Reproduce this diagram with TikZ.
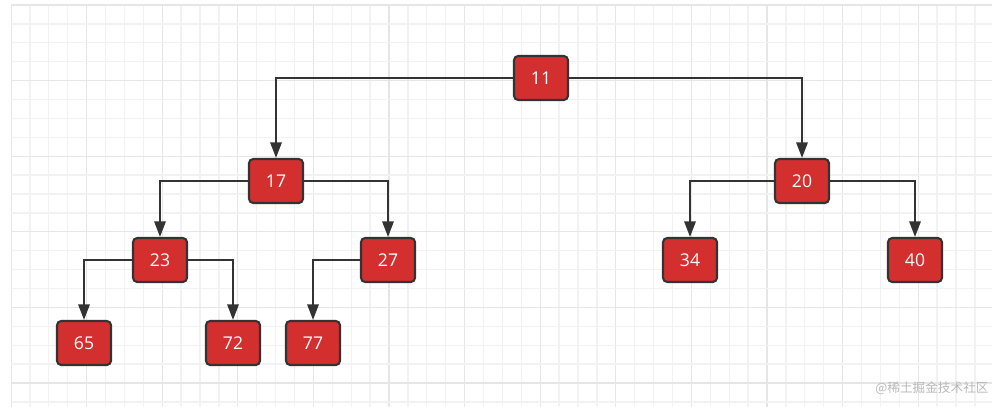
\documentclass[tikz,border=0pt]{standalone}
\usepackage{fontspec}
\setmainfont{Open Sans}
\newfontfamily\cjkfont{Noto Sans CJK SC}
\usetikzlibrary{arrows.meta}
\definecolor{boxred}{HTML}{D32F2F}
\definecolor{edge}{HTML}{333333}
\definecolor{gridminor}{HTML}{F2F2F2}
\definecolor{gridmajor}{HTML}{E6E6E6}

\begin{document}
\begin{tikzpicture}[x=0.025cm, y=-0.025cm,
  treenode/.style={draw=edge, line width=1.5pt, fill=boxred, rounded corners=3pt,
    minimum width=1.35cm, minimum height=1.1cm, inner sep=0pt,
    text=white, font=\fontsize{12.5}{15}\selectfont},
  link/.style={draw=edge, line width=1.5pt, -{Triangle[length=11pt, width=8pt]}}]

\useasboundingbox (0,0) rectangle (992,407);

% Grid background
\begin{scope}
  \clip (11,5) rectangle (992,407);
  \foreach \i in {0,...,52} {
    \pgfmathsetmacro{\gx}{11+18.9*\i}
    \pgfmathtruncatemacro{\ismajor}{mod(\i,4)==0}
    \ifnum\ismajor=1
      \draw[gridmajor, line width=0.9pt] (\gx,5) -- (\gx,407);
    \else
      \draw[gridminor, line width=0.9pt] (\gx,5) -- (\gx,407);
    \fi
  }
  \foreach \j in {0,...,21} {
    \pgfmathsetmacro{\gy}{5+18.9*\j}
    \pgfmathtruncatemacro{\ismajor}{mod(\j,4)==0}
    \ifnum\ismajor=1
      \draw[gridmajor, line width=0.9pt] (11,\gy) -- (992,\gy);
    \else
      \draw[gridminor, line width=0.9pt] (11,\gy) -- (992,\gy);
    \fi
  }
\end{scope}

% Tree nodes
\node[treenode] (n11) at (541,78) {11};
\node[treenode] (n17) at (276,181) {17};
\node[treenode] (n20) at (802,181) {20};
\node[treenode] (n23) at (160,260) {23};
\node[treenode] (n27) at (388,260) {27};
\node[treenode] (n34) at (690,260) {34};
\node[treenode] (n40) at (915,260) {40};
\node[treenode] (n65) at (84,343) {65};
\node[treenode] (n72) at (233,343) {72};
\node[treenode] (n77) at (313,343) {77};

% Links
\draw[link] (n11.west) -| (n17.north);
\draw[link] (n11.east) -| (n20.north);
\draw[link] (n17.west) -| (n23.north);
\draw[link] (n17.east) -| (n27.north);
\draw[link] (n20.west) -| (n34.north);
\draw[link] (n20.east) -| (n40.north);
\draw[link] (n23.west) -| (n65.north);
\draw[link] (n23.east) -| (n72.north);
\draw[link] (n27.west) -| (n77.north);

% Watermark
\node[text=black!28, font=\cjkfont\fontsize{9}{11}\selectfont] (mark) at (932,388) {@稀土掘金技术社区};

\end{tikzpicture}
\end{document}
